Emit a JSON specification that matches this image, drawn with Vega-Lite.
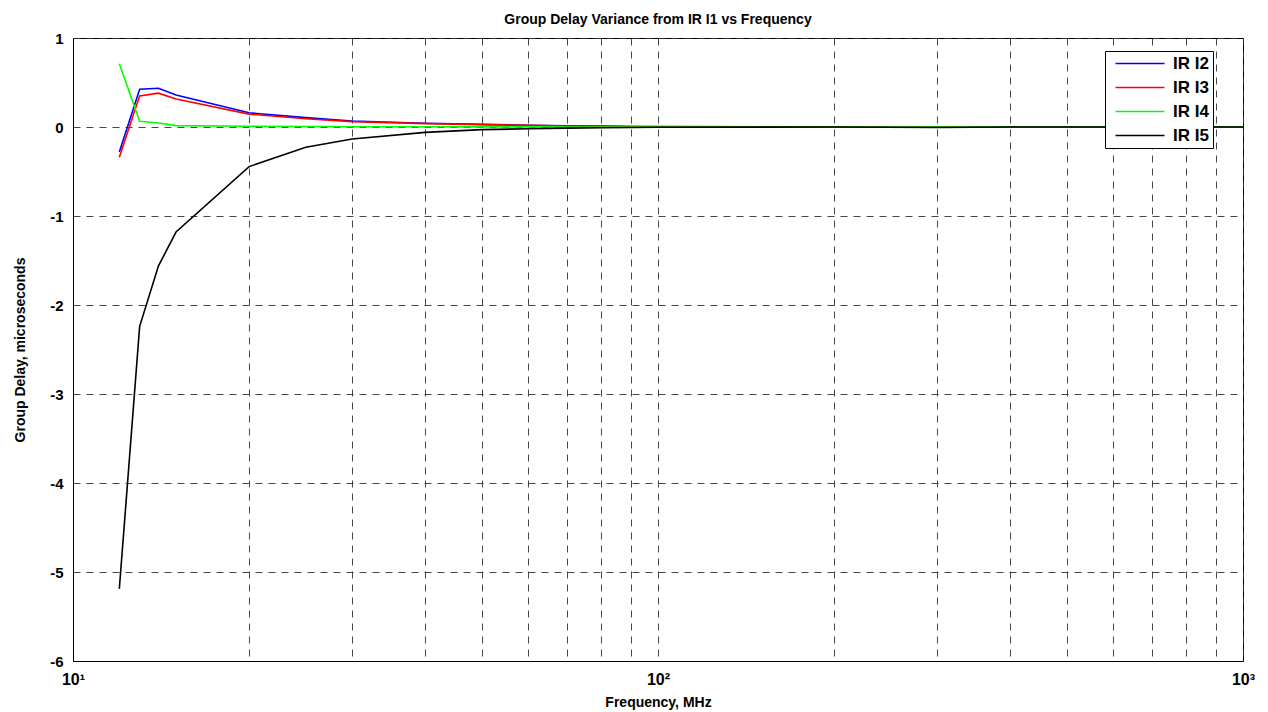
{
  "$schema": "https://vega.github.io/schema/vega-lite/v6.json",
  "width": 1170,
  "height": 623,
  "autosize": {"type": "none"},
  "padding": {"left": 73, "top": 38, "right": 25, "bottom": 51},
  "background": "white",
  "title": {
    "text": "Group Delay Variance from IR I1 vs Frequency",
    "font": "Liberation Sans",
    "fontSize": 14,
    "fontWeight": "bold",
    "color": "black",
    "offset": 4,
    "anchor": "middle"
  },
  "config": {
    "view": {"stroke": "black", "strokeWidth": 1},
    "axis": {
      "labelFont": "Liberation Sans",
      "labelFontWeight": "bold",
      "labelFontSize": 15,
      "labelColor": "black",
      "titleFont": "Liberation Sans",
      "titleFontWeight": "bold",
      "titleFontSize": 14,
      "titleColor": "black",
      "domainColor": "black",
      "domainWidth": 1,
      "gridColor": "#333333",
      "gridDash": [7, 6],
      "gridWidth": 1,
      "gridOpacity": 0.9,
      "ticks": false
    }
  },
  "data": {
    "values": [
      {"f": 12, "gd": -0.28, "s": "IR I2"},
      {"f": 13, "gd": 0.425, "s": "IR I2"},
      {"f": 14, "gd": 0.435, "s": "IR I2"},
      {"f": 15, "gd": 0.36, "s": "IR I2"},
      {"f": 20, "gd": 0.16, "s": "IR I2"},
      {"f": 25, "gd": 0.105, "s": "IR I2"},
      {"f": 30, "gd": 0.068, "s": "IR I2"},
      {"f": 40, "gd": 0.042, "s": "IR I2"},
      {"f": 50, "gd": 0.03, "s": "IR I2"},
      {"f": 60, "gd": 0.02, "s": "IR I2"},
      {"f": 70, "gd": 0.014, "s": "IR I2"},
      {"f": 80, "gd": 0.01, "s": "IR I2"},
      {"f": 90, "gd": 0.006, "s": "IR I2"},
      {"f": 100, "gd": 0.004, "s": "IR I2"},
      {"f": 200, "gd": 0.001, "s": "IR I2"},
      {"f": 300, "gd": 0.0, "s": "IR I2"},
      {"f": 400, "gd": 0.0, "s": "IR I2"},
      {"f": 500, "gd": 0.0, "s": "IR I2"},
      {"f": 600, "gd": 0.0, "s": "IR I2"},
      {"f": 700, "gd": 0.0, "s": "IR I2"},
      {"f": 800, "gd": 0.0, "s": "IR I2"},
      {"f": 900, "gd": 0.0, "s": "IR I2"},
      {"f": 1000, "gd": 0.0, "s": "IR I2"},
      {"f": 12, "gd": -0.34, "s": "IR I3"},
      {"f": 13, "gd": 0.35, "s": "IR I3"},
      {"f": 14, "gd": 0.38, "s": "IR I3"},
      {"f": 15, "gd": 0.315, "s": "IR I3"},
      {"f": 20, "gd": 0.145, "s": "IR I3"},
      {"f": 25, "gd": 0.092, "s": "IR I3"},
      {"f": 30, "gd": 0.06, "s": "IR I3"},
      {"f": 40, "gd": 0.038, "s": "IR I3"},
      {"f": 50, "gd": 0.027, "s": "IR I3"},
      {"f": 60, "gd": 0.018, "s": "IR I3"},
      {"f": 70, "gd": 0.012, "s": "IR I3"},
      {"f": 80, "gd": 0.008, "s": "IR I3"},
      {"f": 90, "gd": 0.005, "s": "IR I3"},
      {"f": 100, "gd": 0.003, "s": "IR I3"},
      {"f": 200, "gd": 0.001, "s": "IR I3"},
      {"f": 300, "gd": 0.0, "s": "IR I3"},
      {"f": 400, "gd": 0.0, "s": "IR I3"},
      {"f": 500, "gd": 0.0, "s": "IR I3"},
      {"f": 600, "gd": 0.0, "s": "IR I3"},
      {"f": 700, "gd": 0.0, "s": "IR I3"},
      {"f": 800, "gd": 0.0, "s": "IR I3"},
      {"f": 900, "gd": 0.0, "s": "IR I3"},
      {"f": 1000, "gd": 0.0, "s": "IR I3"},
      {"f": 12, "gd": 0.71, "s": "IR I4"},
      {"f": 13, "gd": 0.065, "s": "IR I4"},
      {"f": 14, "gd": 0.045, "s": "IR I4"},
      {"f": 15, "gd": 0.015, "s": "IR I4"},
      {"f": 20, "gd": 0.008, "s": "IR I4"},
      {"f": 25, "gd": 0.005, "s": "IR I4"},
      {"f": 30, "gd": 0.003, "s": "IR I4"},
      {"f": 40, "gd": 0.002, "s": "IR I4"},
      {"f": 50, "gd": 0.001, "s": "IR I4"},
      {"f": 60, "gd": 0.001, "s": "IR I4"},
      {"f": 70, "gd": 0.0, "s": "IR I4"},
      {"f": 80, "gd": 0.0, "s": "IR I4"},
      {"f": 90, "gd": 0.0, "s": "IR I4"},
      {"f": 100, "gd": 0.0, "s": "IR I4"},
      {"f": 200, "gd": 0.0, "s": "IR I4"},
      {"f": 300, "gd": 0.0, "s": "IR I4"},
      {"f": 400, "gd": 0.0, "s": "IR I4"},
      {"f": 500, "gd": 0.0, "s": "IR I4"},
      {"f": 600, "gd": 0.0, "s": "IR I4"},
      {"f": 700, "gd": 0.0, "s": "IR I4"},
      {"f": 800, "gd": 0.0, "s": "IR I4"},
      {"f": 900, "gd": 0.0, "s": "IR I4"},
      {"f": 1000, "gd": 0.0, "s": "IR I4"},
      {"f": 12, "gd": -5.19, "s": "IR I5"},
      {"f": 13, "gd": -2.24, "s": "IR I5"},
      {"f": 14, "gd": -1.56, "s": "IR I5"},
      {"f": 15, "gd": -1.18, "s": "IR I5"},
      {"f": 20, "gd": -0.445, "s": "IR I5"},
      {"f": 25, "gd": -0.228, "s": "IR I5"},
      {"f": 30, "gd": -0.135, "s": "IR I5"},
      {"f": 40, "gd": -0.06, "s": "IR I5"},
      {"f": 50, "gd": -0.03, "s": "IR I5"},
      {"f": 60, "gd": -0.02, "s": "IR I5"},
      {"f": 70, "gd": -0.013, "s": "IR I5"},
      {"f": 80, "gd": -0.008, "s": "IR I5"},
      {"f": 90, "gd": -0.005, "s": "IR I5"},
      {"f": 100, "gd": -0.003, "s": "IR I5"},
      {"f": 200, "gd": 0.0, "s": "IR I5"},
      {"f": 300, "gd": -0.006, "s": "IR I5"},
      {"f": 400, "gd": 0.0, "s": "IR I5"},
      {"f": 500, "gd": 0.0, "s": "IR I5"},
      {"f": 600, "gd": 0.0, "s": "IR I5"},
      {"f": 700, "gd": 0.0, "s": "IR I5"},
      {"f": 800, "gd": 0.0, "s": "IR I5"},
      {"f": 900, "gd": 0.0, "s": "IR I5"},
      {"f": 1000, "gd": 0.0, "s": "IR I5"}
    ]
  },
  "mark": {"type": "line", "strokeWidth": 1.6, "clip": true},
  "encoding": {
    "x": {
      "field": "f",
      "type": "quantitative",
      "scale": {"type": "log", "domain": [10, 1000], "nice": false},
      "axis": {
        "title": "Frequency, MHz",
        "values": [10, 20, 30, 40, 50, 60, 70, 80, 90, 100, 200, 300, 400, 500, 600, 700, 800, 900, 1000],
        "labelExpr": "datum.value == 10 ? '10¹' : datum.value == 100 ? '10²' : datum.value == 1000 ? '10³' : ''",
        "labelFontSize": 16,
        "labelPadding": 10,
        "labelFlush": false,
        "labelOverlap": false,
        "titlePadding": 8
      }
    },
    "y": {
      "field": "gd",
      "type": "quantitative",
      "scale": {"domain": [-6, 1], "nice": false, "zero": false},
      "axis": {
        "title": "Group Delay, microseconds",
        "values": [-6, -5, -4, -3, -2, -1, 0, 1],
        "labelExpr": "replace(datum.label, '−', '-')",
        "labelPadding": 10,
        "titlePadding": 22
      }
    },
    "color": {
      "field": "s",
      "type": "nominal",
      "scale": {"domain": ["IR I2", "IR I3", "IR I4", "IR I5"], "range": ["#0000ff", "#ff0000", "#00ff00", "#000000"]},
      "legend": {
        "title": null,
        "orient": "none",
        "legendX": 1032,
        "legendY": 13,
        "strokeColor": "black",
        "fillColor": "white",
        "padding": 4,
        "symbolType": "M-0.333,0H7.833",
        "symbolSize": 144,
        "symbolStrokeWidth": 1.5,
        "labelFont": "Liberation Sans",
        "labelFontWeight": "bold",
        "labelFontSize": 17,
        "labelColor": "black",
        "rowPadding": 6,
        "labelOffset": 47
      }
    }
  }
}
